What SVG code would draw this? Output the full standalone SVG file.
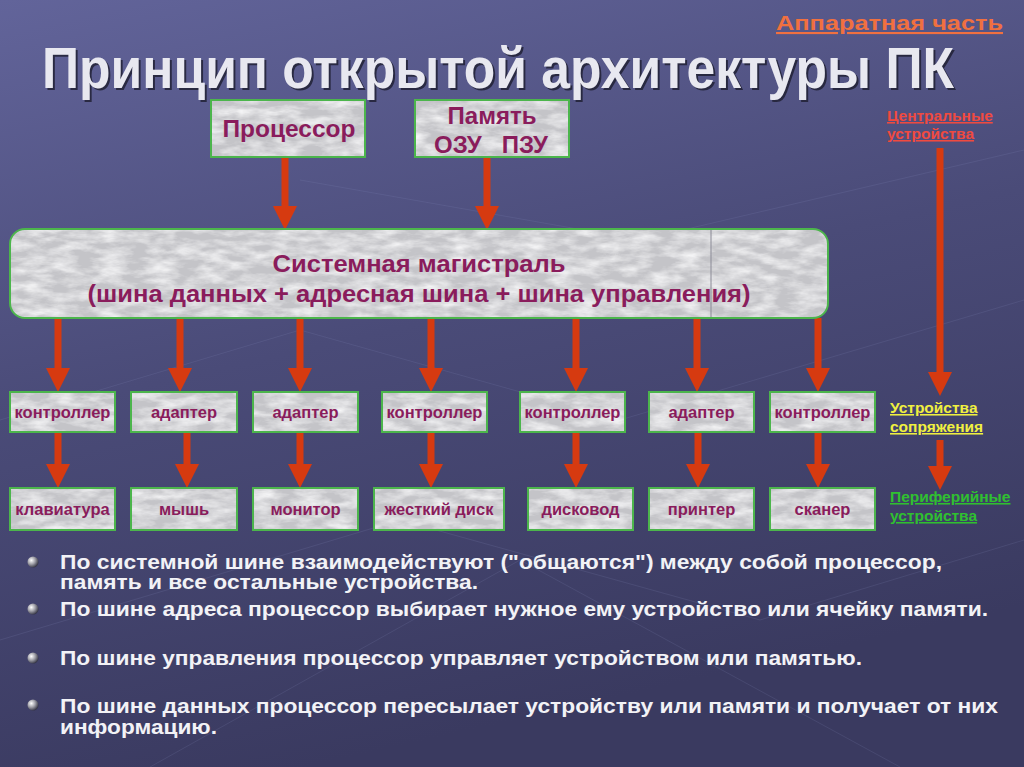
<svg xmlns="http://www.w3.org/2000/svg" width="1024" height="767" viewBox="0 0 1024 767">
<defs>
<linearGradient id="bg" x1="0" y1="0" x2="0.3" y2="1">
<stop offset="0" stop-color="#62649A"/>
<stop offset="0.5" stop-color="#4A4B78"/>
<stop offset="1" stop-color="#3A3A60"/>
</linearGradient>
<filter id="marble" x="0" y="0" width="1" height="1">
<feTurbulence type="fractalNoise" baseFrequency="0.04 0.12" numOctaves="4" seed="3" result="n"/>
<feColorMatrix in="n" type="matrix" values="0 0 0 0 0.95  0 0 0 0 0.95  0 0 0 0 0.96  -1.6 0 0 0 1.05" result="c"/>
<feFlood flood-color="#C4C4C8" result="f"/>
<feComposite in="c" in2="f" operator="over" result="m"/>
<feComposite in="m" in2="SourceGraphic" operator="in"/>
</filter>
<radialGradient id="ball" cx="0.35" cy="0.35" r="0.7">
<stop offset="0" stop-color="#FFFFFF"/>
<stop offset="0.5" stop-color="#A0A0A8"/>
<stop offset="1" stop-color="#303040"/>
</radialGradient>
<marker id="ah" markerUnits="userSpaceOnUse" markerWidth="24" markerHeight="24" viewBox="0 0 24 24" refX="0" refY="12" orient="auto">
<path d="M0,0 L24,12 L0,24 Z" fill="#D63A10"/>
</marker>
<style>
.box{fill:#E2E2E4;}
.bd{fill:none;stroke:#4CB54C;stroke-width:2;}
.lbl{font-family:"Liberation Sans",Arial,sans-serif;font-weight:bold;fill:#8A1C5C;text-anchor:middle;}
.sm{font-size:16.5px;}
.arr{stroke:#D63A10;stroke-width:7;fill:none;}
.side{font-family:"Liberation Sans",Arial,sans-serif;font-size:15.5px;font-weight:bold;text-decoration:underline;}
.bul{font-family:"Liberation Sans",Arial,sans-serif;font-size:20px;font-weight:bold;fill:#F2F2F6;}
.ttl{font-family:"Liberation Sans",Arial,sans-serif;font-weight:bold;font-size:58px;}
</style>
</defs>
<rect width="1024" height="767" fill="url(#bg)"/>
<g opacity="0.12" stroke="#A0A8D8" stroke-width="1" fill="none">
<path d="M0,420 L300,330 L620,420 L1024,300"/>
<path d="M0,640 L400,520 L760,620 L1024,540"/>
<path d="M150,767 L520,560 L900,767"/>
<path d="M300,180 L640,240 L1024,150"/>
</g>
<g id="title">
<g transform="translate(44,90) scale(0.8,1)"><text class="ttl" x="0" y="0" fill="#1E1E30" opacity="0.8" textLength="1140" lengthAdjust="spacingAndGlyphs">Принцип открытой архитектуры ПК</text></g>
<g transform="translate(42,88) scale(0.8,1)"><text class="ttl" x="0" y="0" fill="#E8E8F0" textLength="1140" lengthAdjust="spacingAndGlyphs">Принцип открытой архитектуры ПК</text></g>
<text x="776" y="30" font-family="'Liberation Sans',Arial,sans-serif" font-weight="bold" font-size="21" fill="#F07040" text-decoration="underline" textLength="227" lengthAdjust="spacingAndGlyphs">Аппаратная часть</text>
</g>
<g id="connectors">
<line class="arr" x1="285" y1="157" x2="285" y2="206" marker-end="url(#ah)"/>
<line class="arr" x1="487" y1="157" x2="487" y2="206" marker-end="url(#ah)"/>
<line class="arr" x1="58" y1="318" x2="58" y2="368" marker-end="url(#ah)"/>
<line class="arr" x1="180" y1="318" x2="180" y2="368" marker-end="url(#ah)"/>
<line class="arr" x1="300" y1="318" x2="300" y2="368" marker-end="url(#ah)"/>
<line class="arr" x1="431" y1="318" x2="431" y2="368" marker-end="url(#ah)"/>
<line class="arr" x1="576" y1="318" x2="576" y2="368" marker-end="url(#ah)"/>
<line class="arr" x1="697" y1="318" x2="697" y2="368" marker-end="url(#ah)"/>
<line class="arr" x1="818" y1="318" x2="818" y2="368" marker-end="url(#ah)"/>
<line class="arr" x1="58" y1="432" x2="58" y2="464" marker-end="url(#ah)"/>
<line class="arr" x1="187" y1="432" x2="187" y2="464" marker-end="url(#ah)"/>
<line class="arr" x1="300" y1="432" x2="300" y2="464" marker-end="url(#ah)"/>
<line class="arr" x1="431" y1="432" x2="431" y2="464" marker-end="url(#ah)"/>
<line class="arr" x1="576" y1="432" x2="576" y2="464" marker-end="url(#ah)"/>
<line class="arr" x1="698" y1="432" x2="698" y2="464" marker-end="url(#ah)"/>
<line class="arr" x1="818" y1="432" x2="818" y2="464" marker-end="url(#ah)"/>
<line class="arr" x1="940" y1="148" x2="940" y2="372" marker-end="url(#ah)"/>
<line class="arr" x1="940" y1="440" x2="940" y2="466" marker-end="url(#ah)"/>
</g>
<g id="processor">
<rect class="box" x="211" y="100" width="154" height="57" filter="url(#marble)"/>
<rect class="bd" x="211" y="100" width="154" height="57"/>
<text class="lbl" x="289" y="137" font-size="24.5">Процессор</text>
</g>
<g id="memory">
<rect class="box" x="415" y="100" width="154" height="57" filter="url(#marble)"/>
<rect class="bd" x="415" y="100" width="154" height="57"/>
<text class="lbl" x="492" y="124" font-size="24">Память</text>
<text class="lbl" x="491" y="153" font-size="24" xml:space="preserve">ОЗУ   ПЗУ</text>
</g>
<g id="bus">
<rect class="box" x="10" y="229" width="818" height="89" rx="15" filter="url(#marble)"/>
<rect class="bd" x="10" y="229" width="818" height="89" rx="15"/>
<line x1="711" y1="230" x2="711" y2="317" stroke="#8A8A96" stroke-width="1"/>
<text class="lbl" x="419" y="272" font-size="24" textLength="293" lengthAdjust="spacingAndGlyphs">Системная магистраль</text>
<text class="lbl" x="419" y="302" font-size="24" textLength="663" lengthAdjust="spacingAndGlyphs">(шина данных + адресная шина + шина управления)</text>
</g>
<g id="ctrl1"><rect class="box" x="10" y="392" width="105" height="40" filter="url(#marble)"/><rect class="bd" x="10" y="392" width="105" height="40"/><text class="lbl sm" x="62.5" y="418">контроллер</text></g>
<g id="adapt1"><rect class="box" x="131" y="392" width="106" height="40" filter="url(#marble)"/><rect class="bd" x="131" y="392" width="106" height="40"/><text class="lbl sm" x="184" y="418">адаптер</text></g>
<g id="adapt2"><rect class="box" x="253" y="392" width="105" height="40" filter="url(#marble)"/><rect class="bd" x="253" y="392" width="105" height="40"/><text class="lbl sm" x="305.5" y="418">адаптер</text></g>
<g id="ctrl2"><rect class="box" x="382" y="392" width="105" height="40" filter="url(#marble)"/><rect class="bd" x="382" y="392" width="105" height="40"/><text class="lbl sm" x="434.5" y="418">контроллер</text></g>
<g id="ctrl3"><rect class="box" x="520" y="392" width="105" height="40" filter="url(#marble)"/><rect class="bd" x="520" y="392" width="105" height="40"/><text class="lbl sm" x="572.5" y="418">контроллер</text></g>
<g id="adapt3"><rect class="box" x="649" y="392" width="105" height="40" filter="url(#marble)"/><rect class="bd" x="649" y="392" width="105" height="40"/><text class="lbl sm" x="701.5" y="418">адаптер</text></g>
<g id="ctrl4"><rect class="box" x="770" y="392" width="105" height="40" filter="url(#marble)"/><rect class="bd" x="770" y="392" width="105" height="40"/><text class="lbl sm" x="822.5" y="418">контроллер</text></g>
<g id="keyboard"><rect class="box" x="10" y="488" width="105" height="42" filter="url(#marble)"/><rect class="bd" x="10" y="488" width="105" height="42"/><text class="lbl sm" x="62.5" y="515">клавиатура</text></g>
<g id="mouse"><rect class="box" x="131" y="488" width="106" height="42" filter="url(#marble)"/><rect class="bd" x="131" y="488" width="106" height="42"/><text class="lbl sm" x="184" y="515">мышь</text></g>
<g id="monitor"><rect class="box" x="253" y="488" width="105" height="42" filter="url(#marble)"/><rect class="bd" x="253" y="488" width="105" height="42"/><text class="lbl sm" x="305.5" y="515">монитор</text></g>
<g id="hdd"><rect class="box" x="374" y="488" width="130" height="42" filter="url(#marble)"/><rect class="bd" x="374" y="488" width="130" height="42"/><text class="lbl sm" x="439" y="515">жесткий диск</text></g>
<g id="fdd"><rect class="box" x="528" y="488" width="105" height="42" filter="url(#marble)"/><rect class="bd" x="528" y="488" width="105" height="42"/><text class="lbl sm" x="580.5" y="515">дисковод</text></g>
<g id="printer"><rect class="box" x="649" y="488" width="105" height="42" filter="url(#marble)"/><rect class="bd" x="649" y="488" width="105" height="42"/><text class="lbl sm" x="701.5" y="515">принтер</text></g>
<g id="scanner"><rect class="box" x="770" y="488" width="105" height="42" filter="url(#marble)"/><rect class="bd" x="770" y="488" width="105" height="42"/><text class="lbl sm" x="822.5" y="515">сканер</text></g>
<g id="legend">
<text class="side" x="887" y="121" fill="#F04A40">Центральные</text>
<text class="side" x="887" y="139" fill="#F04A40">устройства</text>
<text class="side" x="890" y="413" fill="#F0F040">Устройства</text>
<text class="side" x="890" y="432" fill="#F0F040">сопряжения</text>
<text class="side" x="890" y="502" fill="#30C030">Периферийные</text>
<text class="side" x="890" y="521" fill="#30C030">устройства</text>
</g>
<g id="bullets">
<circle cx="33" cy="562" r="5.5" fill="url(#ball)"/>
<circle cx="33" cy="609" r="5.5" fill="url(#ball)"/>
<circle cx="33" cy="658" r="5.5" fill="url(#ball)"/>
<circle cx="33" cy="705" r="5.5" fill="url(#ball)"/>
<text class="bul" x="60" y="569" textLength="882" lengthAdjust="spacingAndGlyphs">По системной шине взаимодействуют ("общаются") между собой процессор,</text>
<text class="bul" x="60" y="589" textLength="418" lengthAdjust="spacingAndGlyphs">память и все остальные устройства.</text>
<text class="bul" x="60" y="616" textLength="928" lengthAdjust="spacingAndGlyphs">По шине адреса процессор выбирает нужное ему устройство или ячейку памяти.</text>
<text class="bul" x="60" y="665" textLength="802" lengthAdjust="spacingAndGlyphs">По шине управления процессор управляет устройством или памятью.</text>
<text class="bul" x="60" y="713" textLength="938" lengthAdjust="spacingAndGlyphs">По шине данных процессор пересылает устройству или памяти и получает от них</text>
<text class="bul" x="60" y="734" textLength="157" lengthAdjust="spacingAndGlyphs">информацию.</text>
</g>
</svg>
